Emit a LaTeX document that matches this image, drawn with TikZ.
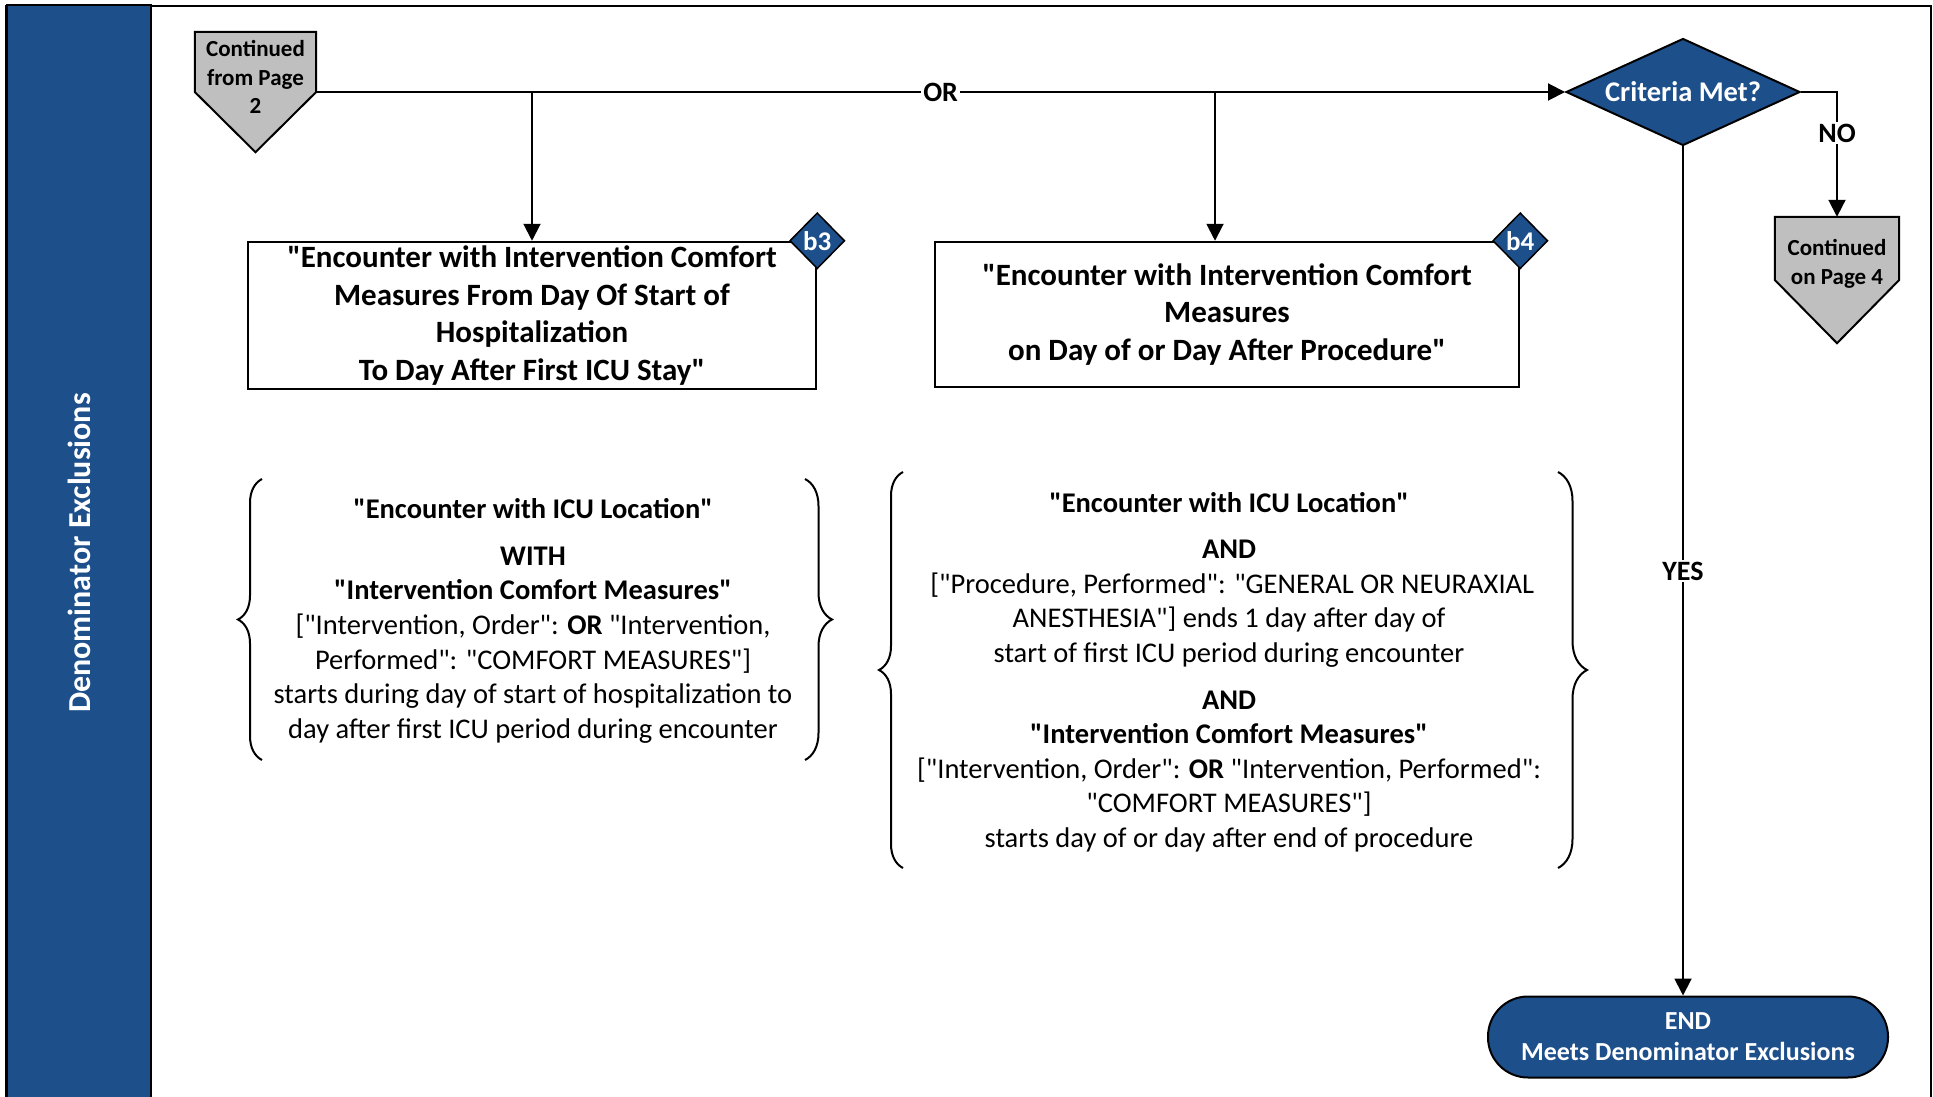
\documentclass[tikz,border=0pt]{standalone}
\usepackage{fontspec}
\setmainfont{Carlito}
\newfontfamily\carl{Carlito}
\usetikzlibrary{shapes.geometric,arrows.meta,decorations.pathreplacing,calc}
\definecolor{nblue}{RGB}{29,79,139}
\definecolor{cgray}{RGB}{191,191,191}
\newcommand\myfs[2]{\fontsize{#1}{#2}\selectfont}
\begin{document}
\carl
\begin{tikzpicture}[x=1pt,y=-1pt,
  conn/.style={line width=2pt},
  arr/.style={conn,-{Triangle[length=17pt,width=17pt]}},
  stepbox/.style={draw,line width=2.5pt,fill=white,align=center,inner sep=0pt,font=\carl\bfseries\myfs{31}{37.5}},
  tag/.style={diamond,draw=black,line width=1.5pt,fill=nblue,text=white,font=\carl\bfseries\myfs{27}{30},minimum width=55pt,minimum height=56pt,inner sep=0pt},
  pent/.style={draw,line width=2pt,fill=cgray},
  pentxt/.style={align=center,font=\carl\bfseries\myfs{23}{28.5},inner sep=0pt},
  blk/.style={align=center,font=\carl\myfs{28.5}{34.6},inner sep=0pt},
  brc/.style={decorate,line width=2pt},
  lbl/.style={fill=white,font=\carl\bfseries\myfs{28}{30},inner sep=2pt}
]
\useasboundingbox (0,0) rectangle (1933,1097);
% frame and band
\draw[line width=2.5pt] (6,1100) -- (6,6) -- (1931,6) -- (1931,1100);
\filldraw[fill=nblue,draw=black,line width=2pt] (7,5) rectangle (151,1100);
\node[rotate=90,text=white,font=\carl\bfseries\myfs{32}{36}] (band) at (79,553) {Denominator Exclusions};

% off-page connector from page 2
\node[minimum width=121pt,minimum height=120pt,inner sep=0pt] (c2) at (255.5,92) {};
\draw[pent] (c2.north west) -- (c2.north east) -- (c2.east) -- (c2.south) -- (c2.west) -- cycle;
\node[pentxt] (c2t) at (255.5,77) {Continued\\from Page\\2};

% decision
\node[diamond,aspect=2.19,draw=black,line width=2pt,fill=nblue,text=white,
      font=\carl\bfseries\myfs{28.5}{32},minimum width=234pt,minimum height=107pt,inner sep=0pt] (crit) at (1683,92) {Criteria Met?};

% off-page connector to page 4
\node[minimum width=124pt,minimum height=126pt,inner sep=0pt] (c4) at (1837,280) {};
\draw[pent] (c4.north west) -- (c4.north east) -- (c4.east) -- (c4.south) -- (c4.west) -- cycle;
\node[pentxt] (c4t) at (1837,264) {Continued\\on Page 4};

% end
\node[draw=black,line width=2pt,fill=nblue,rounded corners=40pt,minimum width=400pt,minimum height=81pt,
      text=white,align=center,font=\carl\bfseries\myfs{26}{31}] (end) at (1688,1037) {END\\Meets Denominator Exclusions};

% boxes
\node[stepbox,minimum width=568pt,minimum height=147pt] (b3) at (532,315.5)
  {"Encounter with Intervention Comfort\\Measures From Day Of Start of\\Hospitalization\\To Day After First ICU Stay"};
\node[stepbox,minimum width=584pt,minimum height=145pt] (b4) at (1227,314.5)
  {"Encounter with Intervention Comfort\\Measures\\on Day of or Day After Procedure"};
\node[tag] (t3) at (b3.north east) {b3};
\node[tag] (t4) at (b4.north east) {b4};

% connectors
\draw[arr] (c2.east) -- (crit.west) node[lbl,midway] (or) {OR};
\draw[arr] (b3.north |- c2.east) -- (b3.north);
\coordinate (b4in) at ($(b4.north)+(-12,0)$);
\draw[arr] (b4in |- c2.east) -- (b4in);
\draw[arr] (crit.east) -| (c4.north) node[lbl,pos=0.664] (no) {NO};
\draw[arr] (crit.south) -- (crit.south |- end.north) node[lbl,midway] (yes) {YES};

% left bracket block
\node[blk] (lt) at (533,621) {{\bfseries "Encounter with ICU Location"}\\[12pt]{\bfseries WITH}\\{\bfseries "Intervention Comfort Measures"}\\{}["Intervention, Order": \textbf{OR} "Intervention,\\Performed": "COMFORT MEASURES"]\\starts during day of start of hospitalization to\\day after first ICU period during encounter};
\draw[brc,decoration={brace,amplitude=24pt}] (262,760) -- (262,479);
\draw[brc,decoration={brace,amplitude=27pt}] (805,479) -- (805,760);

% right bracket block
\node[blk] (rt) at (1229,672) {{\bfseries "Encounter with ICU Location"}\\[12pt]{\bfseries AND}\\{} ["Procedure, Performed": "GENERAL OR NEURAXIAL\\ANESTHESIA"] ends 1 day after day of\\start of first ICU period during encounter\\[12pt]{\bfseries AND}\\{\bfseries "Intervention Comfort Measures"}\\{}["Intervention, Order": \textbf{OR} "Intervention, Performed":\\"COMFORT MEASURES"]\\starts day of or day after end of procedure};
\draw[brc,decoration={brace,amplitude=24pt}] (903,868) -- (903,472);
\draw[brc,decoration={brace,amplitude=29pt}] (1558,472) -- (1558,868);
\end{tikzpicture}
\end{document}
